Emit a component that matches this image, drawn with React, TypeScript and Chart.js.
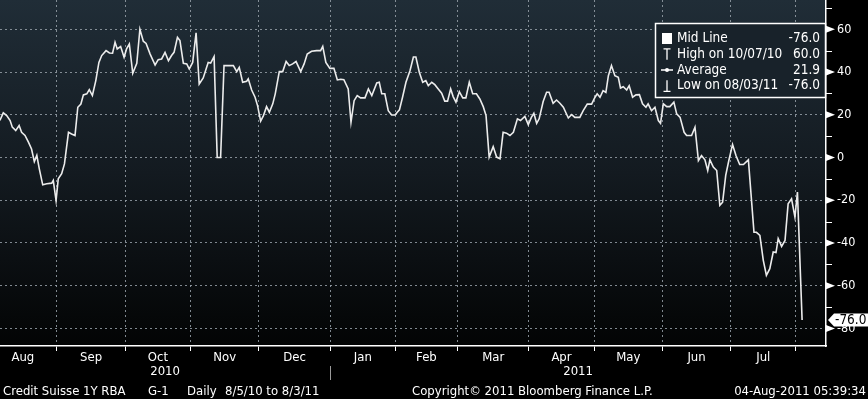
import { useEffect, useRef } from "react";
import { Chart, registerables } from "chart.js";

Chart.register(...registerables);

// trading-day index (0 = 8/5/10) of each vertex
const days = [
  0.6, 1.7, 2.8, 3.9, 4.6, 5.7, 6.8, 7.6, 8.7, 9.8,
  10.8, 11.7, 12.5, 13.3, 14.4, 15.7, 17.3, 17.8, 18.7, 19.4,
  20.5, 21.4, 22.7, 23.7, 24.8, 25.7, 26.7, 27.5, 28.6, 29.4,
  30.4, 31.5, 32.5, 33.4, 34.8, 35.9, 36.9, 37.7, 38.4, 39.5,
  40.6, 41.4, 42.3, 43.4, 44.7, 45.7, 46.8, 47.7, 49.0, 50.6,
  51.6, 52.7, 53.8, 54.9, 55.9, 56.7, 57.8, 58.6, 59.7, 60.8,
  61.6, 62.7, 63.8, 64.8, 66.1, 67.7, 68.5, 69.6, 70.6, 71.7,
  72.8, 74.3, 75.8, 76.9, 77.7, 78.8, 80.1, 80.6, 81.7, 82.8,
  83.6, 84.6, 85.5, 86.5, 87.4, 88.5, 89.3, 90.6, 91.7, 92.8,
  93.8, 94.9, 96.0, 97.5, 98.6, 99.6, 101.0, 102.6, 103.9, 104.6,
  105.6, 106.9, 108.2, 109.3, 110.4, 111.4, 112.8, 113.7, 114.7, 115.7,
  116.8, 118.2, 119.3, 120.4, 122.0, 122.8, 123.6, 124.6, 125.7, 126.8,
  127.9, 128.6, 129.3, 130.3, 131.4, 132.7, 133.8, 134.6, 135.7, 136.8,
  137.8, 138.6, 139.7, 140.7, 141.8, 142.9, 143.9, 144.8, 145.8, 146.6,
  147.5, 148.6, 149.7, 150.7, 151.8, 152.9, 154.1, 155.2, 156.3, 157.2,
  158.2, 159.5, 160.6, 161.7, 162.7, 163.8, 164.9, 166.0, 167.3, 168.3,
  169.7, 170.8, 171.8, 172.6, 173.5, 174.3, 175.6, 176.7, 177.5, 178.8,
  179.9, 181.0, 182.1, 183.7, 184.8, 185.8, 187.4, 188.5, 189.8, 191.2,
  192.3, 193.0, 193.9, 194.9, 195.8, 196.6, 197.6, 198.7, 199.8, 200.5,
  201.4, 202.5, 203.3, 204.4, 205.5, 206.6, 207.6, 208.7, 209.4, 210.5,
  211.6, 212.7, 213.4, 214.3, 215.4, 216.4, 217.7, 218.6, 219.7, 221.0,
  221.8, 223.4, 224.5, 225.6, 226.6, 227.7, 228.6, 229.3, 230.4, 231.5,
  232.5, 233.4, 234.4, 235.4, 236.6, 237.7, 238.9, 240.1, 241.7, 243.5,
  244.3, 245.4, 246.5, 247.5, 248.6, 249.7, 250.6, 251.3, 252.4, 253.5,
  254.5, 255.6, 256.7, 257.5, 259.0,
];

const values = [
  17.3, 20.9, 19.6, 17.3, 14.2, 12.6, 15.0, 11.8, 10.3, 7.2,
  4.0, -1.9, 1.0, -5.3, -12.8, -12.3, -12.0, -10.7, -20.1, -10.0,
  -7.6, -3.0, 11.8, 11.0, 10.3, 23.5, 25.0, 29.3, 29.8, 31.8,
  29.0, 36.0, 44.5, 47.7, 50.0, 48.9, 48.8, 53.9, 50.8, 51.9,
  46.9, 50.8, 53.1, 39.4, 44.1, 60.0, 54.4, 53.4, 48.4, 43.3,
  45.8, 46.1, 49.2, 45.3, 47.7, 49.2, 56.2, 54.7, 44.1, 43.8,
  41.4, 44.5, 58.3, 34.4, 37.2, 44.5, 44.2, 47.2, 0.0, 0.0,
  43.0, 43.0, 43.0, 40.2, 42.2, 35.2, 35.7, 36.8, 31.6, 28.2,
  24.3, 17.0, 19.6, 23.8, 21.2, 25.1, 29.8, 40.2, 40.2, 44.9,
  43.0, 43.8, 44.9, 40.2, 43.8, 48.4, 49.7, 50.0, 50.0, 52.0,
  44.5, 41.7, 41.7, 36.3, 36.6, 36.4, 32.1, 16.5, 26.6, 29.0,
  27.9, 27.9, 32.1, 29.0, 34.9, 35.2, 29.8, 29.8, 21.9, 19.9,
  19.9, 21.2, 22.3, 28.2, 35.2, 40.6, 47.0, 47.0, 39.9, 35.2,
  36.0, 33.6, 35.2, 34.1, 32.1, 30.1, 26.4, 26.4, 32.1, 28.5,
  25.9, 30.8, 27.9, 27.9, 35.2, 29.8, 29.8, 27.4, 23.8, 19.6,
  0.2, 5.1, 0.2, -0.6, 11.8, 11.4, 10.3, 11.8, 18.1, 17.3,
  19.2, 15.4, 18.8, 20.7, 16.0, 18.1, 26.2, 30.5, 30.5, 25.4,
  26.9, 25.4, 23.5, 18.5, 20.1, 18.8, 18.8, 21.9, 25.0, 25.0,
  28.2, 29.8, 28.2, 31.3, 30.5, 38.3, 43.0, 38.3, 37.5, 32.5,
  33.1, 31.6, 33.6, 28.2, 29.3, 29.4, 25.1, 23.5, 25.1, 21.9,
  23.5, 17.3, 16.0, 25.1, 23.8, 23.8, 25.9, 20.4, 18.8, 11.8,
  10.3, 10.3, 14.2, -1.4, 0.9, -1.1, -6.1, -1.1, -4.5, -6.1,
  -22.4, -20.9, -8.4, -1.4, 6.1, 0.9, -3.3, -3.3, -1.1, -35.0,
  -35.0, -36.4, -48.1, -55.1, -52.0, -44.2, -44.5, -37.9, -41.6, -38.8,
  -21.7, -19.3, -27.9, -16.2, -76.0,
];

// first trading day of each month (trading-day index)
const monthStarts = [-3, 19, 41, 62, 84, 107, 128, 148, 171, 192, 214, 236, 257];
const monthLabels = ["Aug", "Sep", "Oct", "Nov", "Dec", "Jan", "Feb", "Mar", "Apr", "May", "Jun", "Jul"];
const yearLabels = ["2010", "2011"];
const yearBreak = 107;
const yMajorTicks = [-80, -60, -40, -20, 0, 20, 40, 60];
const yMinorTicks = [-70, -50, -30, -10, 10, 30, 50, 70];
const legendNames = ["Mid Line", "High on 10/07/10", "Average", "Low on 08/03/11"];
const legendValues = ["-76.0", "60.0", "21.9", "-76.0"];
const lastValue = -76.0;
const footerLeft = ["Credit Suisse 1Y RBA", "G-1", "Daily", "8/5/10 to 8/3/11"];
const footerCenter = "Copyright\u00A9 2011 Bloomberg Finance L.P.";
const footerRight = "04-Aug-2011 05:39:34";

const X_MIN = 0.64;
const X_MAX = 266.7;
const Y_MIN = -88.2;
const Y_MAX = 73.7;

const FONT = "'DejaVu Sans Condensed', 'Liberation Sans Narrow', 'DejaVu Sans', sans-serif";
const GRID = "rgba(150,160,168,0.85)";

const bgPlugin = {
  id: "bbgBackground",
  beforeDraw(chart: any) {
    const { ctx, chartArea: a, width, height } = chart;
    ctx.save();
    ctx.fillStyle = "#000";
    ctx.fillRect(0, 0, width, height);
    const g = ctx.createLinearGradient(0, a.top, 0, a.bottom);
    g.addColorStop(0, "#202d37");
    g.addColorStop(0.5, "#131a20");
    g.addColorStop(1, "#030404");
    ctx.fillStyle = g;
    ctx.fillRect(a.left, a.top, a.right - a.left, a.bottom - a.top);
    ctx.restore();
  },
};

const overlayPlugin = {
  id: "bbgOverlay",
  afterDraw(chart: any) {
    const { ctx, chartArea: a, width } = chart;
    const xs = chart.scales.x;
    const ys = chart.scales.y;
    ctx.save();

    // month labels
    ctx.fillStyle = "#fff";
    ctx.font = `13px ${FONT}`;
    ctx.textAlign = "center";
    ctx.textBaseline = "middle";
    for (let i = 0; i < monthLabels.length; i++) {
      const mid = (monthStarts[i] + monthStarts[i + 1]) / 2;
      ctx.fillText(monthLabels[i], xs.getPixelForValue(mid), a.bottom + 12);
    }
    // year labels
    const xb = xs.getPixelForValue(yearBreak);
    ctx.fillText(yearLabels[0], (a.left + xb) / 2, a.bottom + 26);
    ctx.fillText(yearLabels[1], (xb + a.right) / 2, a.bottom + 26);
    ctx.strokeStyle = "#9a9a9a";
    ctx.lineWidth = 1;
    ctx.beginPath();
    ctx.moveTo(Math.round(xb) + 0.5, a.bottom + 20);
    ctx.lineTo(Math.round(xb) + 0.5, a.bottom + 34);
    ctx.stroke();

    // footer
    ctx.textAlign = "left";
    const fy = a.bottom + 45.5;
    const fx = [3, 148, 187, 225];
    footerLeft.forEach((t, i) => ctx.fillText(t, fx[i], fy));
    ctx.fillText(footerCenter, 412, fy);
    ctx.textAlign = "right";
    ctx.fillText(footerRight, width - 2, fy);

    // y-axis arrows and minor ticks
    ctx.fillStyle = "#fff";
    for (const v of yMajorTicks) {
      const y = ys.getPixelForValue(v);
      ctx.beginPath();
      ctx.moveTo(a.right, y - 3.5);
      ctx.lineTo(a.right + 9, y);
      ctx.lineTo(a.right, y + 3.5);
      ctx.closePath();
      ctx.fill();
    }
    ctx.strokeStyle = "#fff";
    ctx.lineWidth = 1;
    for (const v of yMinorTicks) {
      const y = Math.round(ys.getPixelForValue(v)) + 0.5;
      ctx.beginPath();
      ctx.moveTo(a.right, y);
      ctx.lineTo(a.right + 6, y);
      ctx.stroke();
    }

    // legend box
    const bx = 655, by = 23, bw = a.right - bx, bh = 75;
    ctx.fillStyle = "#18222a";
    ctx.fillRect(bx, by, bw, bh);
    ctx.strokeStyle = "#fff";
    ctx.lineWidth = 1.5;
    ctx.strokeRect(bx + 0.5, by + 0.5, bw - 1, bh - 1);
    const rows = [38.5, 54.3, 70, 85.8];
    ctx.fillStyle = "#fff";
    ctx.strokeStyle = "#fff";
    ctx.lineWidth = 1.3;
    // icons
    ctx.fillRect(662, rows[0] - 5.5, 10, 11);
    ctx.beginPath();
    ctx.moveTo(663.5, rows[1] - 5.5); ctx.lineTo(670.5, rows[1] - 5.5);
    ctx.moveTo(667, rows[1] - 5.5); ctx.lineTo(667, rows[1] + 5.5);
    ctx.moveTo(661, rows[2]); ctx.lineTo(673, rows[2]);
    ctx.moveTo(663.5, rows[3] + 5.5); ctx.lineTo(670.5, rows[3] + 5.5);
    ctx.moveTo(667, rows[3] + 5.5); ctx.lineTo(667, rows[3] - 5.5);
    ctx.stroke();
    ctx.beginPath();
    ctx.arc(667, rows[2], 2, 0, Math.PI * 2);
    ctx.fill();
    ctx.font = `13.5px ${FONT}`;
    for (let i = 0; i < legendNames.length; i++) {
      ctx.textAlign = "left";
      ctx.fillText(legendNames[i], 677, rows[i]);
      ctx.textAlign = "right";
      ctx.fillText(legendValues[i], 820, rows[i]);
    }

    // last value tag
    const ty = ys.getPixelForValue(lastValue);
    ctx.fillStyle = "#fff";
    ctx.beginPath();
    ctx.moveTo(a.right + 2, ty);
    ctx.lineTo(a.right + 8, ty - 6.5);
    ctx.lineTo(width, ty - 6.5);
    ctx.lineTo(width, ty + 6.5);
    ctx.lineTo(a.right + 8, ty + 6.5);
    ctx.closePath();
    ctx.fill();
    ctx.fillStyle = "#000";
    ctx.textAlign = "left";
    ctx.font = `13.5px ${FONT}`;
    ctx.fillText(lastValue.toFixed(1), a.right + 9, ty + 0.5);

    ctx.restore();
  },
};

export default function App() {
  const ref = useRef<HTMLCanvasElement | null>(null);

  useEffect(() => {
    document.body.style.margin = "0";
    document.body.style.background = "#000";
    const canvas = ref.current;
    if (!canvas) return;
    const chart = new Chart(canvas, {
      type: "line",
      data: {
        datasets: [
          {
            data: days.map((d, i) => ({ x: d, y: values[i] })),
            borderColor: "#ececec",
            borderWidth: 1.6,
            pointRadius: 0,
            tension: 0,
            fill: false,
          },
        ],
      },
      options: {
        animation: false,
        responsive: false,
        devicePixelRatio: 1,
        layout: { padding: 0 },
        plugins: { legend: { display: false }, tooltip: { enabled: false } },
        scales: {
          x: {
            type: "linear",
            min: X_MIN,
            max: X_MAX,
            afterBuildTicks: (scale: any) => {
              scale.ticks = monthStarts
                .filter((v) => v > X_MIN && v < X_MAX)
                .map((v) => ({ value: v }));
            },
            afterFit: (scale: any) => {
              scale.height = 53;
              scale.paddingLeft = 0;
              scale.paddingRight = 0;
            },
            ticks: { display: false },
            grid: {
              color: GRID,
              lineWidth: 1,
              drawTicks: true,
              tickLength: 5,
              tickColor: "#fff",
              tickWidth: 1,
            },
            border: { display: true, color: "#fff", width: 1.5, dash: [2, 3] },
          },
          y: {
            position: "right",
            min: Y_MIN,
            max: Y_MAX,
            afterBuildTicks: (scale: any) => {
              scale.ticks = yMajorTicks.map((v) => ({ value: v }));
            },
            afterFit: (scale: any) => {
              scale.width = 42;
              scale.paddingTop = 0;
              scale.paddingBottom = 0;
            },
            ticks: {
              color: "#fff",
              font: { family: FONT, size: 12.5 },
              padding: 11,
            },
            grid: { color: GRID, lineWidth: 1, drawTicks: false },
            border: { display: true, color: "#fff", width: 1.5, dash: [2, 3] },
          },
        },
      },
      plugins: [bgPlugin, overlayPlugin],
    } as any);
    return () => chart.destroy();
  }, []);

  return (
    <div style={{ width: 868, height: 399, background: "#000" }}>
      <canvas ref={ref} width={868} height={399} style={{ display: "block" }} />
    </div>
  );
}
